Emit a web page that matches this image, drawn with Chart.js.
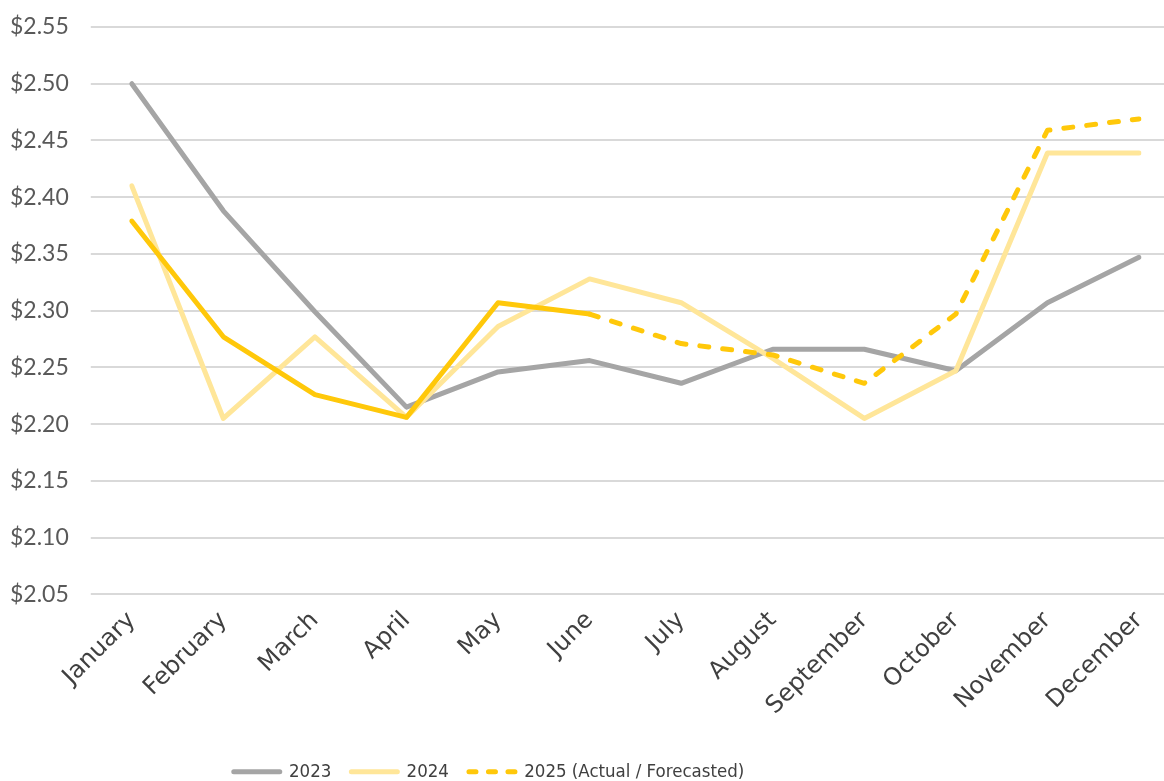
<!DOCTYPE html>
<html>
<head>
<meta charset="utf-8">
<script src="https://cdn.jsdelivr.net/npm/chart.js@4.4.1/dist/chart.umd.min.js"></script>
<style>
  html, body { margin: 0; padding: 0; background: #fff; }
  #wrap { width: 1164px; height: 781px; position: relative; }
</style>
</head>
<body>
<div id="wrap"><canvas id="chart"></canvas></div>
<script>
// Chart data
const months = ['January', 'February', 'March', 'April', 'May', 'June',
  'July', 'August', 'September', 'October', 'November', 'December'];
const values2023 = [2.500, 2.388, 2.299, 2.215, 2.246, 2.256, 2.236, 2.266, 2.266, 2.247, 2.307, 2.347];
const values2024 = [2.410, 2.205, 2.277, 2.206, 2.286, 2.328, 2.307, 2.258, 2.205, 2.247, 2.439, 2.439];
const values2025 = [2.379, 2.277, 2.226, 2.206, 2.307, 2.297, 2.271, 2.261, 2.236, 2.297, 2.459, 2.469];
const lastActualIndex = 5; // June: solid up to here, dashed forecast after
const yTicks = { min: 2.05, max: 2.55, step: 0.05 };

const gridColor = '#D9D9D9';
const dashPattern = [9, 14];
const legendDash = [7, 12.5]; // 3 dashes fit the 46px legend sample
const labelFont = { family: 'Lato, "DejaVu Sans", sans-serif', size: 23 };
const monthFont = { family: '"DejaVu Sans", sans-serif', size: 24 };
const legendFont = { family: '"Liberation Sans Narrow", "DejaVu Sans Condensed", sans-serif', size: 18.5 };

const lineBase = {
  borderWidth: 5,
  borderCapStyle: 'round',
  borderJoinStyle: 'round',
  pointRadius: 0,
  pointHoverRadius: 0,
  tension: 0,
  fill: false
};

// legend in the reference sits left of centre; nudge it after layout
const legendShift = {
  id: 'legendShift',
  afterLayout(chart) {
    const lg = chart.legend;
    if (!lg) return;
    lg.left -= 87;
    lg.right -= 87;
  }
};

const ctx = document.getElementById('chart').getContext('2d');
new Chart(ctx, {
  type: 'line',
  data: {
    labels: months,
    datasets: [
      { ...lineBase, label: '2023', data: values2023, borderColor: '#A5A5A5', backgroundColor: '#A5A5A5', order: 2 },
      { ...lineBase, label: '2024', data: values2024, borderColor: '#FFE699', backgroundColor: '#FFE699', order: 1 },
      {
        ...lineBase,
        label: '2025 (Actual / Forecasted)',
        data: values2025,
        borderColor: '#FFC80A',
        backgroundColor: '#FFC80A',
        borderDash: dashPattern,
        order: 0,
        segment: {
          borderDash: c => (c.p1DataIndex <= lastActualIndex ? [] : undefined)
        }
      }
    ]
  },
  plugins: [legendShift],
  options: {
    responsive: true,
    maintainAspectRatio: false,
    animation: false,
    layout: { padding: { left: -12, top: 27, right: 0, bottom: -10 } },
    plugins: {
      tooltip: { enabled: false },
      legend: {
        position: 'bottom',
        labels: {
          usePointStyle: true,
          pointStyle: 'line',
          pointStyleWidth: 46,
          boxWidth: 46,
          boxHeight: 20,
          padding: 20,
          color: '#404040',
          font: legendFont,
          sort: (a, b) => a.datasetIndex - b.datasetIndex,
          generateLabels: chart =>
            Chart.defaults.plugins.legend.labels.generateLabels(chart).map(item => ({
              ...item,
              lineWidth: 5,
              lineCap: 'round',
              lineDash: chart.data.datasets[item.datasetIndex].borderDash ? legendDash : []
            }))
        }
      }
    },
    scales: {
      x: {
        offset: false,
        grid: { display: false },
        border: { display: false },
        ticks: {
          minRotation: 45,
          maxRotation: 45,
          autoSkip: false,
          padding: 4,
          color: '#404040',
          font: monthFont
        },
        afterFit: s => {
          s.paddingLeft = 0;
          s.height += 18;
        }
      },
      y: {
        position: 'left',
        min: yTicks.min,
        max: yTicks.max,
        border: { display: false },
        grid: { color: gridColor, lineWidth: 2, tickLength: 41, drawTicks: true },
        ticks: {
          stepSize: yTicks.step,
          padding: 22,
          color: '#595959',
          font: labelFont,
          callback: v => '$' + Number(v).toFixed(2)
        },
        afterFit: s => {
          s.paddingTop = 0;
        }
      },
      // right-hand axis only to carry the gridlines out to the edge
      yRight: {
        position: 'right',
        display: true,
        min: yTicks.min,
        max: yTicks.max,
        border: { display: false },
        grid: { color: gridColor, lineWidth: 2, tickLength: 25, drawTicks: true, drawOnChartArea: false },
        ticks: { stepSize: yTicks.step, display: false }
      }
    }
  }
});
</script>
</body>
</html>
